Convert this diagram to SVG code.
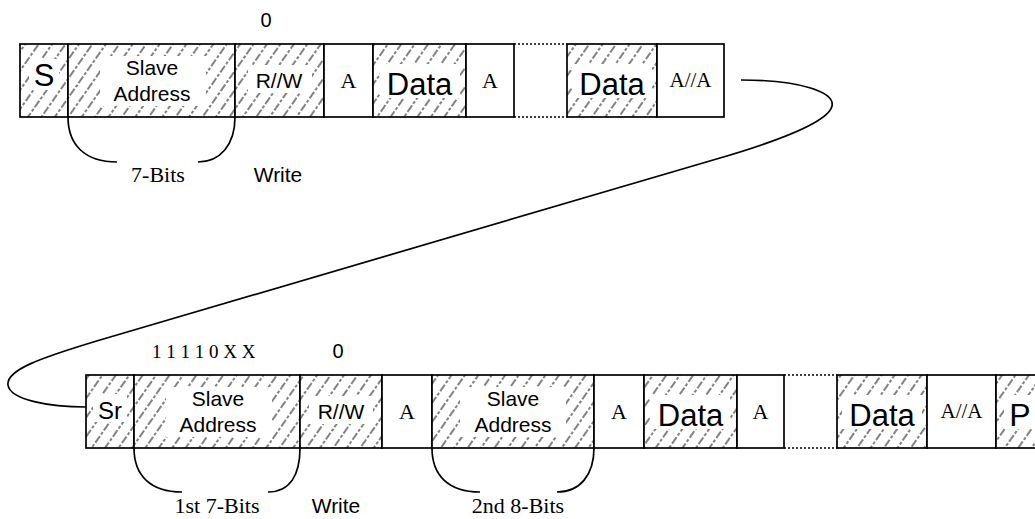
<svg xmlns="http://www.w3.org/2000/svg" width="1035" height="519" viewBox="0 0 1035 519">
<style>
.box{stroke:#000;stroke-width:1.7;}
.h{fill:url(#hatch);}
.w{fill:#fff;}
.dot{stroke:#000;stroke-width:1.7;stroke-dasharray:2 2;fill:none;}
.sans{font-family:"Liberation Sans",Arial,sans-serif;fill:#000;text-anchor:middle;}
.serif{font-family:"Liberation Serif","Times New Roman",serif;fill:#000;text-anchor:middle;}
.brace{fill:none;stroke:#000;stroke-width:1.7;}
.conn{fill:none;stroke:#000;stroke-width:1.7;}
.mask{fill:#fff;stroke:none;}
</style>
<defs>
<pattern id="hatch" patternUnits="userSpaceOnUse" width="11" height="15" patternTransform="rotate(35)">
<rect width="11" height="15" fill="#fff"/>
<line x1="2" y1="0" x2="2" y2="15" stroke="#383838" stroke-width="1.25" stroke-dasharray="8 2 3 2"/>
</pattern>
</defs>
<rect width="1035" height="519" fill="#fff"/>

<!-- Top row -->
<g id="top-S"><rect class="box h" x="20" y="44" width="48" height="73"/><rect class="mask" x="29" y="59" width="30" height="31"/><text class="sans" x="44" y="86" font-size="31">S</text></g>
<g id="top-addr"><rect class="box h" x="68" y="44" width="167" height="73"/><rect class="mask" x="100" y="56" width="106" height="50"/><text class="sans" x="152" y="75" font-size="21">Slave</text><text class="sans" x="152" y="101" font-size="21">Address</text></g>
<g id="top-rw"><rect class="box h" x="235" y="44" width="89" height="73"/><rect class="mask" x="248" y="65" width="64" height="28"/><text class="sans" x="279" y="88" font-size="21">R//W</text></g>
<g id="top-a1"><rect class="box w" x="324" y="44" width="49" height="73"/><text class="serif" x="348.5" y="88" font-size="22">A</text></g>
<g id="top-data1"><rect class="box h" x="373" y="44" width="93" height="73"/><rect class="mask" x="380" y="64" width="80" height="34"/><text class="sans" x="419.5" y="95" font-size="31">Data</text></g>
<g id="top-a2"><rect class="box w" x="466" y="44" width="48" height="73"/><text class="serif" x="490" y="88" font-size="22">A</text></g>
<g id="top-gap"><line class="dot" x1="514" y1="44" x2="567" y2="44"/><line class="dot" x1="514" y1="117" x2="567" y2="117"/></g>
<g id="top-data2"><rect class="box h" x="567" y="44" width="90" height="73"/><rect class="mask" x="572" y="64" width="80" height="34"/><text class="sans" x="612" y="95" font-size="31">Data</text></g>
<g id="top-aa"><rect class="box w" x="657" y="44" width="67" height="73"/><text class="serif" x="690.5" y="87" font-size="21">A//A</text></g>

<g id="top-labels">
<text class="sans" x="266" y="27" font-size="20">0</text>
<text class="serif" x="158" y="182" font-size="22">7-Bits</text>
<text class="sans" x="278" y="182" font-size="21">Write</text>
</g>

<!-- Bottom row -->
<g id="bot-Sr"><rect class="box h" x="86" y="375" width="48" height="73"/><rect class="mask" x="93" y="394" width="34" height="28"/><text class="sans" x="110" y="419" font-size="24">Sr</text></g>
<g id="bot-addr1"><rect class="box h" x="134" y="375" width="166" height="73"/><rect class="mask" x="166" y="387" width="106" height="50"/><text class="sans" x="218" y="406" font-size="21">Slave</text><text class="sans" x="218" y="432" font-size="21">Address</text></g>
<g id="bot-rw"><rect class="box h" x="300" y="375" width="82" height="73"/><rect class="mask" x="309" y="396" width="64" height="28"/><text class="sans" x="341" y="419" font-size="21">R//W</text></g>
<g id="bot-a1"><rect class="box w" x="382" y="375" width="50" height="73"/><text class="serif" x="407" y="419" font-size="22">A</text></g>
<g id="bot-addr2"><rect class="box h" x="432" y="375" width="162" height="73"/><rect class="mask" x="460" y="387" width="106" height="50"/><text class="sans" x="513" y="406" font-size="21">Slave</text><text class="sans" x="513" y="432" font-size="21">Address</text></g>
<g id="bot-a2"><rect class="box w" x="594" y="375" width="50" height="73"/><text class="serif" x="619" y="419" font-size="22">A</text></g>
<g id="bot-data1"><rect class="box h" x="644" y="375" width="93" height="73"/><rect class="mask" x="650" y="395" width="80" height="34"/><text class="sans" x="690.5" y="426" font-size="31">Data</text></g>
<g id="bot-a3"><rect class="box w" x="737" y="375" width="47" height="73"/><text class="serif" x="760.5" y="419" font-size="22">A</text></g>
<g id="bot-gap"><line class="dot" x1="784" y1="375" x2="837" y2="375"/><line class="dot" x1="784" y1="448" x2="837" y2="448"/></g>
<g id="bot-data2"><rect class="box h" x="837" y="375" width="90" height="73"/><rect class="mask" x="842" y="395" width="80" height="34"/><text class="sans" x="882" y="426" font-size="31">Data</text></g>
<g id="bot-aa"><rect class="box w" x="927" y="375" width="69" height="73"/><text class="serif" x="961.5" y="418" font-size="21">A//A</text></g>
<g id="bot-P"><rect class="box h" x="996" y="375" width="60" height="73"/><rect class="mask" x="1004" y="395" width="31" height="34"/><text class="sans" x="1020" y="426" font-size="32">P</text></g>

<g id="bot-labels">
<text class="serif" x="152" y="358" font-size="19" style="text-anchor:start">1 1 1 1 0 X X</text>
<text class="sans" x="338" y="358" font-size="20">0</text>
<text class="serif" x="217" y="513" font-size="22">1st 7-Bits</text>
<text class="sans" x="336" y="513" font-size="21">Write</text>
<text class="serif" x="518" y="513" font-size="22">2nd 8-Bits</text>
</g>

<!-- Braces and connector -->
<g id="connectors">
<path class="brace" d="M68,117 C68,145 85,162 117,162"/>
<path class="brace" d="M198,162 C220,162 235,145 235,117"/>
<path class="brace" d="M134,448 C134,475 150,492 182,492"/>
<path class="brace" d="M268,492 C290,492 300,475 300,448"/>
<path class="brace" d="M432,448 C432,475 448,492 480,492"/>
<path class="brace" d="M557,492 C580,492 594,475 594,448"/>
<path class="conn" d="M741,80 C800,80 835,92 832,106 C829,120 788,138 720,158 L100,340 C40,358 6,370 8,385 C10,400 50,407 86,407"/>
</g>
</svg>
